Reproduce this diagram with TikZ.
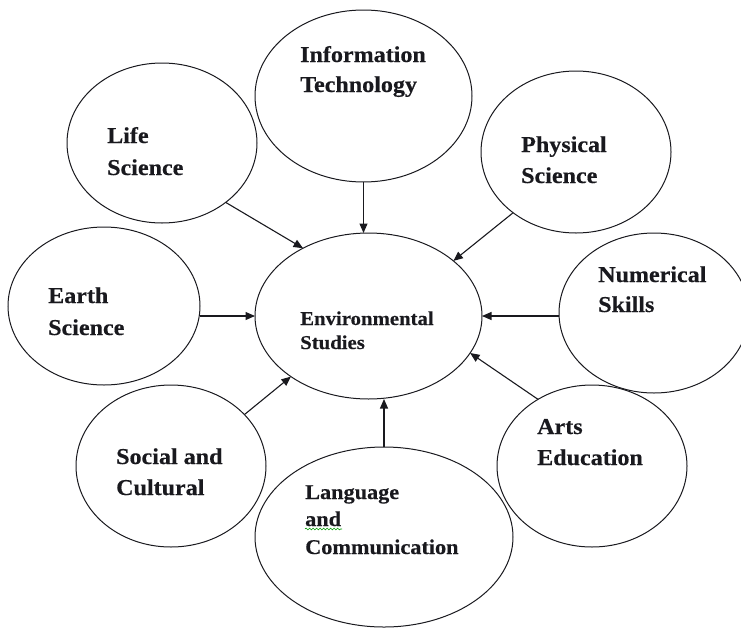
\documentclass[tikz,border=0pt]{standalone}
\usepackage{fontspec}
\newfontfamily\labfont[FakeStretch=1.06,FakeBold=0.4]{Liberation Serif}
\usetikzlibrary{shapes.geometric,arrows.meta,decorations.pathmorphing}
\definecolor{inkc}{RGB}{25,25,30}
\tikzset{
  ell/.style={draw=inkc, ellipse, inner sep=0pt, outer sep=0pt, line width=1pt},
  lab/.style={anchor=base west, inner sep=0pt, text=inkc, font=\labfont\bfseries\fontsize{22.7}{27}\selectfont},
  labsm/.style={lab, font=\labfont\bfseries\fontsize{19.6}{24}\selectfont},
  labmd/.style={lab, font=\labfont\bfseries\fontsize{21}{26}\selectfont},
  arr/.style={draw=inkc, -{Triangle[length=9.5pt,width=8pt]}, line width=1.1pt},
}
\begin{document}
\begin{tikzpicture}[x=1pt,y=-1pt]
\useasboundingbox (0,0) rectangle (741,627);
% ellipses
\node[ell, minimum width=217pt, minimum height=172pt] (it) at (363.5,96) {};
\node[ell, minimum width=190pt, minimum height=160pt] (life) at (162,143) {};
\node[ell, minimum width=190pt, minimum height=162pt] (phys) at (576,152) {};
\node[ell, minimum width=192pt, minimum height=158pt] (earth) at (104,306) {};
\node[ell, minimum width=227pt, minimum height=166pt] (es) at (368.5,316) {};
\node[ell, minimum width=190pt, minimum height=160pt] (num) at (654,313) {};
\node[ell, minimum width=190pt, minimum height=162pt] (soc) at (171,466) {};
\node[ell, minimum width=258pt, minimum height=180pt] (lang) at (384,537) {};
\node[ell, minimum width=190pt, minimum height=162pt] (arts) at (592,466) {};
% labels
\node[lab] (it1) at (300,62) {Information};
\node[lab] (it2) at (300,92) {Technology};
\node[lab] (life1) at (107,143) {Life};
\node[lab] (life2) at (107,175) {Science};
\node[lab] (phys1) at (521,152) {Physical};
\node[lab] (phys2) at (521,183) {Science};
\node[lab] (earth1) at (48,303) {Earth};
\node[lab] (earth2) at (48,335) {Science};
\node[lab] (num1) at (598,282) {Numerical};
\node[lab] (num2) at (598,312) {Skills};
\node[labsm] (es1) at (300,325) {Environmental};
\node[labsm] (es2) at (300,349) {Studies};
\node[lab] (soc1) at (116,464) {Social and};
\node[lab] (soc2) at (116,495) {Cultural};
\node[labmd] (lang1) at (305,499) {Language};
\node[labmd] (lang2) at (305,526) {and};
\node[labmd] (lang3) at (305,554) {Communication};
\node[lab] (arts1) at (537,434) {Arts};
\node[lab] (arts2) at (537,465) {Education};
% spell-check squiggle
\draw[green!60!black, line width=0.6pt, decorate, decoration={snake, amplitude=0.9pt, segment length=3.5pt}] (lang2.base west) ++(0,3) -- ++(37,0);
% arrows
\draw[arr] (it.south) -- (it.south |- es.north);
\draw[arr] (life.-43) -- (es.134);
\draw[arr] (phys.-136.4) -- (es.33.7);
\draw[arr] (es.west -| earth.east) -- (es.west);
\draw[arr] (es.east -| num.west) -- (es.east);
\draw[arr] (soc.35) -- (es.-142);
\draw[arr] (lang.north) -- (lang.north |- es.south);
\draw[arr] (arts.129.4) -- (es.-20);
\end{tikzpicture}
\end{document}
